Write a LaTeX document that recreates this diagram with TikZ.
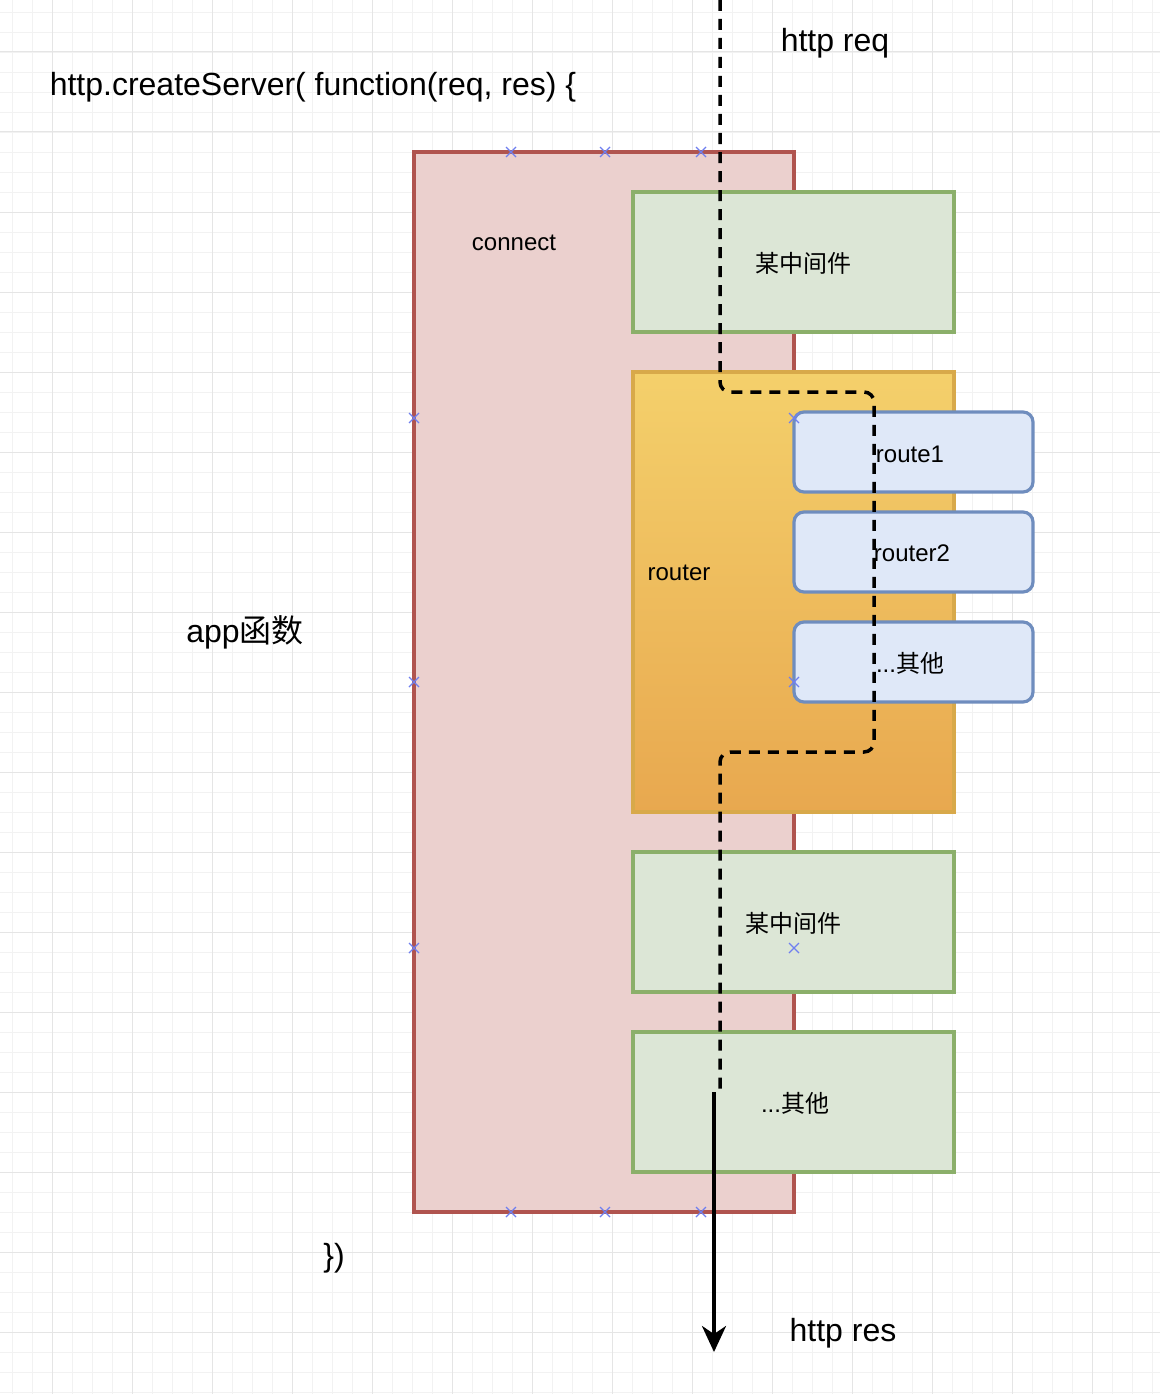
\documentclass[tikz,border=0pt]{standalone}
\usepackage{fontspec}
\setmainfont{Liberation Sans}
\newfontfamily\cjk{Noto Sans CJK SC}
\usetikzlibrary{arrows.meta}
\definecolor{cfill}{HTML}{EBD0CE}\definecolor{cline}{HTML}{B0544F}
\definecolor{gfill}{HTML}{DCE6D6}\definecolor{gline}{HTML}{8BAF6A}
\definecolor{bfill}{HTML}{DFE8F8}\definecolor{bline}{HTML}{6F8DBE}
\definecolor{otop}{HTML}{F4D06B}\definecolor{obot}{HTML}{E8A84F}\definecolor{oline}{HTML}{D8A94A}
\definecolor{mk}{HTML}{6F7FF0}
\tikzset{
 green/.style={draw=gline,fill=gfill,line width=3.2pt},
 blue/.style={draw=bline,fill=bfill,line width=3.2pt,rounded corners=10pt},
 lbl/.style={font=\fontsize{24}{28}\selectfont,inner sep=0pt},
 big/.style={font=\fontsize{32}{38}\selectfont,inner sep=0pt},
 handle/.style={draw=mk,line width=1.2pt},
}
\begin{document}
\begin{tikzpicture}[x=1pt,y=-1pt]
\useasboundingbox (0,0) rectangle (1160,1394);
\fill[white] (0,0) rectangle (1160,1394);
\foreach \i in {12,32,...,1392}{\draw[black!5,line width=0.6pt] (\i,0)--(\i,1394); \draw[black!5,line width=0.6pt] (0,\i)--(1160,\i);}
\foreach \i in {52,132,...,1392}{\draw[black!10,line width=1pt] (\i,0)--(\i,1394); \draw[black!10,line width=1pt] (0,\i)--(1160,\i);}
\draw[draw=cline,fill=cfill,line width=3.2pt] (414,152) rectangle (794,1212);
\node[lbl] (connect) at (514,243) {connect};
\draw[green] (633,192) rectangle (954,332);
\node[lbl] (m1) at (803,263) {\cjk 某中间件};
\draw[draw=oline,line width=3.2pt,top color=otop,bottom color=obot] (633,372) rectangle (954,812);
\node[lbl] (router) at (679,573) {router};
\draw[blue] (794,412) rectangle (1033,492);
\draw[blue] (794,512) rectangle (1033,592);
\draw[blue] (794,622) rectangle (1033,702);
\node[lbl] at (910,454) {route1};
\node[lbl] at (912,553) {router2};
\node[lbl] at (910,663) {...{\cjk 其他}};
\draw[green] (633,852) rectangle (954,992);
\node[lbl] at (793,923) {\cjk 某中间件};
\draw[green] (633,1032) rectangle (954,1172);
\node[lbl] at (795,1103) {...{\cjk 其他}};
\node[big] at (835,43) {http req};
\node[big] at (313,87) {http.createServer( function(req, res) \{};
\node[big] at (245,632) {app{\cjk 函数}};
\node[big] at (334,1258) {\})};
\node[big] at (843,1333) {http res};
\coordinate (s) at (720,0);
\coordinate (e) at (720,1092);
\draw[line width=3.5pt,dash pattern=on 11pt off 8pt,rounded corners=10pt]
 (s) -- (720,392) -- (874,392) -- (874,752) -- (720,752) -- (e);
\coordinate (a1) at (714,1092);\coordinate (a2) at (714,1352);
\draw[line width=3.5pt,-{Stealth[length=26pt,width=24pt,inset=8pt]}] (a1) -- (a2);
\foreach \p in {(511,152),(605,152),(701,152),(414,418),(414,682),(414,948),(511,1212),(605,1212),(701,1212),(794,418),(794,682),(794,948)}{
 \draw[handle] \p ++(-5,-5) -- ++(10,10) \p ++(-5,5) -- ++(10,-10);}
\end{tikzpicture}
\end{document}
